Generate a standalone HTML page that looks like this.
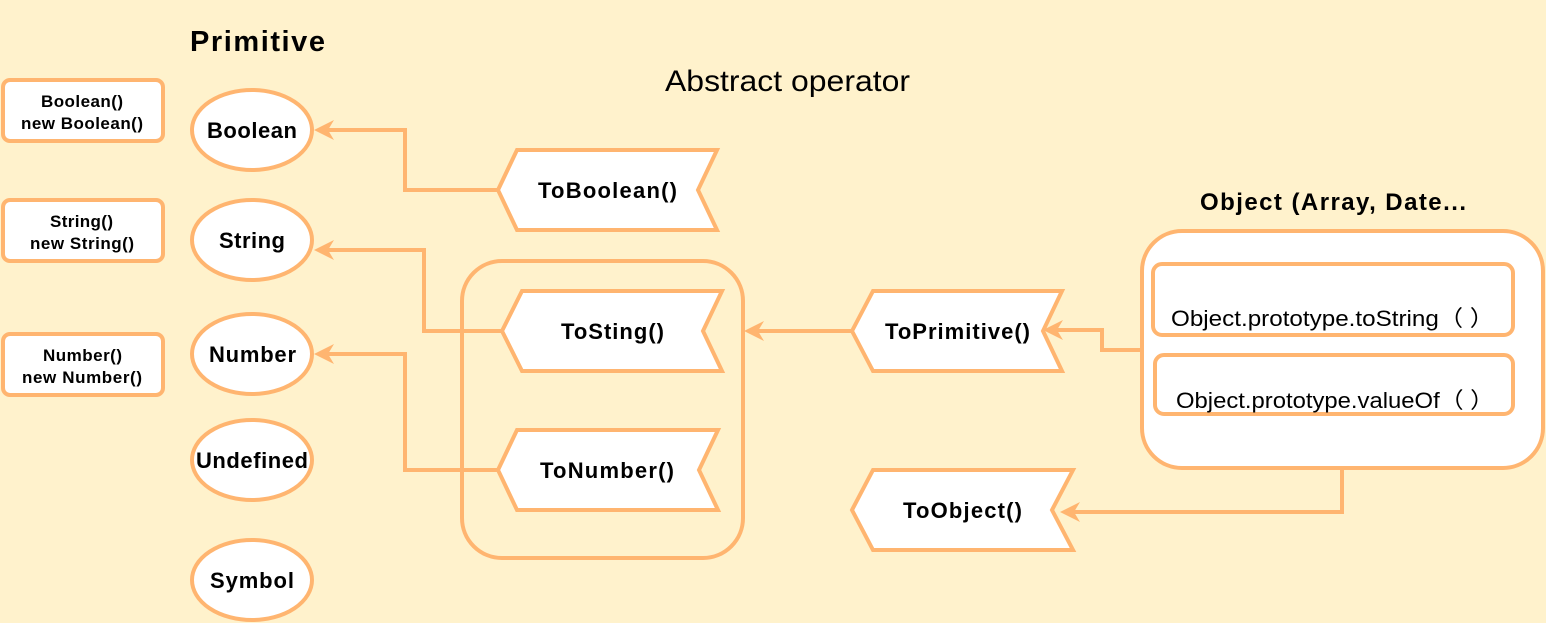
<!DOCTYPE html>
<html><head><style>body{margin:0;background:#FFF2CC}svg{display:block}</style></head><body>
<svg width="1546" height="623" viewBox="0 0 1546 623" xmlns="http://www.w3.org/2000/svg" font-family="Liberation Sans, Arial, sans-serif">
<rect width="1546" height="623" fill="#FFF2CC"/>
<g stroke="#FFB570" stroke-width="4" fill="#fff">
<rect x="3" y="80" width="160" height="61" rx="7"/>
<rect x="3" y="200" width="160" height="61" rx="7"/>
<rect x="3" y="334" width="160" height="61" rx="7"/>
<ellipse cx="252" cy="130" rx="60" ry="40"/>
<ellipse cx="252" cy="240" rx="60" ry="40"/>
<ellipse cx="252" cy="354" rx="60" ry="40"/>
<ellipse cx="252" cy="460" rx="60" ry="40"/>
<ellipse cx="252" cy="580" rx="60" ry="40"/>
<rect x="462" y="261" width="281" height="297" rx="40" fill="none"/>
<path d="M498,190 L517,150 L717,150 L698,190 L717,230 L517,230 Z"/>
<path d="M502,331 L522,291 L722,291 L703,331 L722,371 L522,371 Z"/>
<path d="M498,470 L517,430 L718,430 L699,470 L718,510 L517,510 Z"/>
<path d="M852,331 L873,291 L1062,291 L1043,331 L1062,371 L873,371 Z"/>
<path d="M852,510 L873,470 L1073,470 L1052,510 L1073,550 L873,550 Z"/>
<rect x="1142" y="231" width="401" height="237" rx="40"/>
<rect x="1153" y="264" width="360" height="71" rx="9"/>
<rect x="1155" y="355" width="358" height="59" rx="9"/>
</g>
<g stroke="#FFB570" stroke-width="4" fill="none">
<path d="M498,190 H405 V130 H325"/>
<path d="M502,331 H424 V250 H325"/>
<path d="M498,470 H405 V354 H325"/>
<path d="M852,331 H755"/>
<path d="M1142,350 H1102 V330 H1055"/>
<path d="M1342,468 V512 H1072"/>
</g>
<g fill="#FFB570">
<path d="M314,130 L334,120 L328,130 L334,140 Z"/>
<path d="M314,250 L334,240 L328,250 L334,260 Z"/>
<path d="M314,354 L334,344 L328,354 L334,364 Z"/>
<path d="M744,331 L764,321 L758,331 L764,341 Z"/>
<path d="M1043,330 L1063,320 L1057,330 L1063,340 Z"/>
<path d="M1060,512 L1080,502 L1074,512 L1080,522 Z"/>
</g>
<g font-weight="bold" fill="#000" lengthAdjust="spacingAndGlyphs">
<text x="41" y="107" font-size="17" textLength="82">Boolean()</text>
<text x="21" y="129" font-size="17" textLength="122">new Boolean()</text>
<text x="50" y="227" font-size="17" textLength="63">String()</text>
<text x="30" y="249" font-size="17" textLength="104">new String()</text>
<text x="43" y="361" font-size="17" textLength="79">Number()</text>
<text x="22" y="383" font-size="17" textLength="120">new Number()</text>
<text x="207" y="138" font-size="22" textLength="90">Boolean</text>
<text x="219" y="248" font-size="22" textLength="66">String</text>
<text x="209" y="362" font-size="22" textLength="87">Number</text>
<text x="196" y="468" font-size="22" textLength="112">Undefined</text>
<text x="210" y="588" font-size="22" textLength="84">Symbol</text>
<text x="538" y="198" font-size="22" textLength="139">ToBoolean()</text>
<text x="561" y="339" font-size="22" textLength="103">ToSting()</text>
<text x="540" y="478" font-size="22" textLength="134">ToNumber()</text>
<text x="885" y="339" font-size="22" textLength="145">ToPrimitive()</text>
<text x="903" y="518" font-size="22" textLength="119">ToObject()</text>
<text x="190" y="51" font-size="29" textLength="135">Primitive</text>
<text x="1200" y="210" font-size="24" textLength="266">Object (Array, Date...</text>
</g>
<text x="665" y="91" font-size="30" textLength="245" lengthAdjust="spacingAndGlyphs">Abstract operator</text>
<text x="1171" y="326" font-size="22" textLength="323" lengthAdjust="spacingAndGlyphs">Object.prototype.toString（ ）</text>
<text x="1176" y="408" font-size="22" textLength="318" lengthAdjust="spacingAndGlyphs">Object.prototype.valueOf（ ）</text>
</svg>
</body></html>
